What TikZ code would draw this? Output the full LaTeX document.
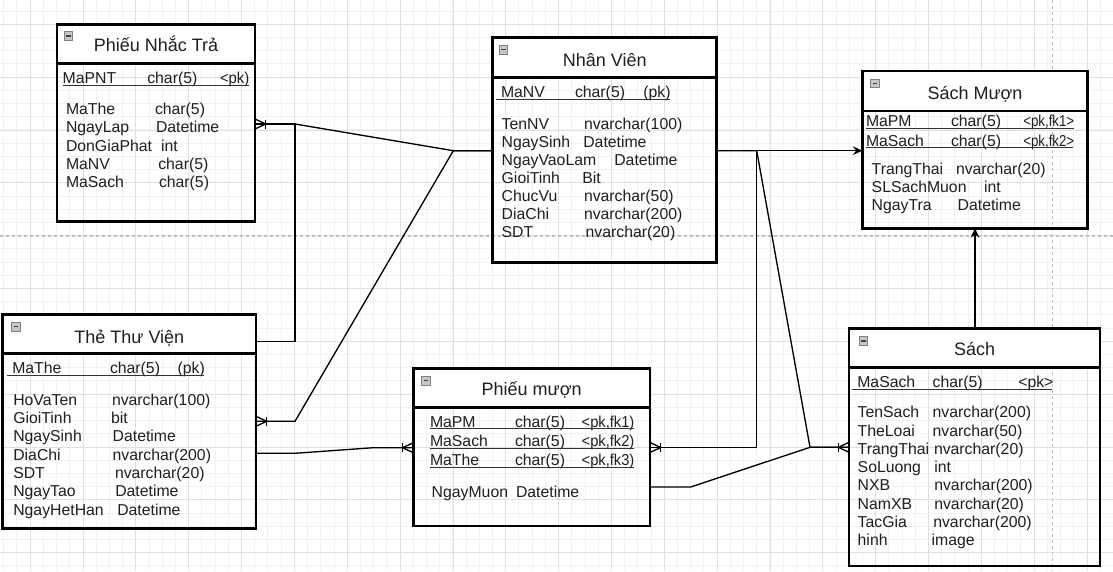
\documentclass[tikz,border=0pt]{standalone}
\usepackage{fontspec}
\setmainfont{Liberation Sans}
\usetikzlibrary{fit,calc,arrows.meta}
\newcommand\crowft[2]{%
  \draw[conn] ($(#1)+(0,-5)$) -- ($(#1)+(#2*10.7,0)$) -- ($(#1)+(0,5)$);
  \draw[conn] ($(#1)+(#2*10.7,-4.5)$) -- ($(#1)+(#2*10.7,4.5)$);
}
\newcommand\tblicon[2]{%
  \draw[iconbox] (#1,#2) rectangle ++(8.5,8.5);
  \draw[iconbar] ({#1+2},{#2+4.25}) -- ({#1+6.5},{#2+4.25});
}
\begin{document}
\begin{tikzpicture}[x=0.75pt,y=-0.75pt,
  tbl/.style={draw=black, line width=2pt, inner sep=0pt, outer sep=0pt, rectangle},
  hdr/.style={draw=black, line width=2pt},
  conn/.style={draw=black, line width=1pt},
  fld/.style={anchor=base west, inner sep=0pt, outer sep=0pt, text=black!88, font=\fontsize{11.85pt}{14pt}\selectfont},
  ttl/.style={anchor=base, inner sep=0pt, text=black!88, font=\fontsize{13.5pt}{16pt}\selectfont},
  ul/.style={draw=black!80, line width=0.75pt},
  gminor/.style={draw=black!5, line width=0.75pt},
  gmajor/.style={draw=black!12, line width=0.75pt},
  pageline/.style={draw=black!25, line width=0.9pt, dash pattern=on 2.5pt off 2pt},
  iconbox/.style={draw=black!50, fill=black!22, line width=0.6pt},
  iconbar/.style={draw=black!75, line width=0.9pt},
  arr/.style={-{Stealth[length=7pt,width=6.5pt]}}]
\useasboundingbox (0,0) rectangle (1113,571);
\fill[white] (0,0) rectangle (1113,571);
% grid
\foreach \i in {0,...,84} \draw[gminor] ({3.78+13.21*\i},0) -- ({3.78+13.21*\i},571);
\foreach \j in {0,...,42} \draw[gminor] (0,{11.1+13.21*\j}) -- (1113,{11.1+13.21*\j});
\foreach \i in {0,...,20} \draw[gmajor] ({30.2+52.85*\i},0) -- ({30.2+52.85*\i},571);
\foreach \j in {0,...,10} \draw[gmajor] (0,{24.3+52.85*\j}) -- (1113,{24.3+52.85*\j});
\draw[pageline] (0,236) -- (1113,236);
\draw[pageline] (1052.5,0) -- (1052.5,571);

% header fills
\fill[white] (57,24.3) rectangle (255,63.3);
\fill[white] (492.7,37.3) rectangle (716.7,77.3);
\fill[white] (862.3,71) rectangle (1087.7,111);
\fill[white] (2.7,314.3) rectangle (256,353.3);
\fill[white] (413.3,368.3) rectangle (650,407.7);
\fill[white] (849,328.3) rectangle (1100,367.7);

% tables
\node[tbl, fit={(57,24.3) (255,221.7)}] (pnt) {};
\node[tbl, fit={(492.7,37.3) (716.7,262.3)}] (nv) {};
\node[tbl, fit={(862.3,71) (1087.7,228.3)}] (sm) {};
\node[tbl, fit={(2.7,314.3) (256,528.3)}] (ttv) {};
\node[tbl, fit={(413.3,368.3) (650,526)}] (pm) {};
\node[tbl, fit={(849,328.3) (1100,566)}] (sach) {};

\draw[hdr] (pnt.west |- 0,63.3) -- (pnt.east |- 0,63.3);
\draw[hdr] (nv.west |- 0,77.3) -- (nv.east |- 0,77.3);
\draw[hdr] (sm.west |- 0,111) -- (sm.east |- 0,111);
\draw[hdr] (ttv.west |- 0,353.3) -- (ttv.east |- 0,353.3);
\draw[hdr] (pm.west |- 0,407.7) -- (pm.east |- 0,407.7);
\draw[hdr] (sach.west |- 0,367.7) -- (sach.east |- 0,367.7);

% icons
\tblicon{64}{31.7}
\tblicon{499}{45.5}
\tblicon{870.7}{79}
\tblicon{11.5}{322.5}
\tblicon{421.5}{376.5}
\tblicon{859}{336.7}

% titles
\node[ttl] (pnt-title) at (pnt.center |- 0,51.7) {Phiếu Nhắc Trả};
\node[ttl] (nv-title) at (nv.center |- 0,66) {Nhân Viên};
\node[ttl] (sm-title) at (sm.center |- 0,99) {Sách Mượn};
\node[ttl] (ttv-title) at (ttv.center |- 0,343.3) {Thẻ Thư Viện};
\node[ttl] (pm-title) at (pm.center |- 0,395.7) {Phiếu mượn};
\node[ttl] (sach-title) at (sach.center |- 0,355.7) {Sách};

% Phieu Nhac Tra
\node[fld] (pnt-k1) at (62.7,83.3) {MaPNT};
\node[fld] (pnt-k2) at (147.3,83.3) {char(5)};
\node[fld] (pnt-k3) at (220,83.3) {\scalebox{0.94}[1]{<pk)}};
\draw[ul] (62.7,85.3) -- (249.3,85.3);
\foreach \n/\t/\tx/\y [count=\i] in {MaThe/char(5)/155/114.7, NgayLap/Datetime/156/132.8, DonGiaPhat/int/161/151, MaNV/char(5)/158.3/169.2, MaSach/char(5)/159/187.4}{
  \node[fld] (pnt-n\i) at (66,\y) {\n};
  \node[fld] (pnt-t\i) at (\tx,\y) {\t};
}

% Nhan Vien
\node[fld] (nv-k1) at (501,97.7) {MaNV};
\node[fld] (nv-k2) at (575,97.7) {char(5)};
\node[fld] (nv-k3) at (643.3,97.7) {(pk)};
\draw[ul] (496,99.5) -- (670,99.5);
\foreach \n/\t/\tx/\y [count=\i] in {TenNV/nvarchar(100)/584/129, NgaySinh/Datetime/583.3/147.1, NgayVaoLam/Datetime/614.3/165.3, GioiTinh/Bit/582.3/183.4, ChucVu/nvarchar(50)/584/201.5, DiaChi/nvarchar(200)/584/219.6, SDT/nvarchar(20)/585.7/237.7}{
  \node[fld] (nv-n\i) at (501.7,\y) {\n};
  \node[fld] (nv-t\i) at (\tx,\y) {\t};
}

% Sach Muon
\node[fld] (sm-k1) at (866,126.5) {MaPM};
\node[fld] (sm-k2) at (951,126.5) {char(5)};
\node[fld] (sm-k3) at (1023.3,126.5) {\scalebox{0.84}[1]{<pk,fk1>}};
\draw[ul] (866,128.3) -- (1074,128.3);
\node[fld] (sm-k4) at (866,146) {MaSach};
\node[fld] (sm-k5) at (951,146) {char(5)};
\node[fld] (sm-k6) at (1023.3,146) {\scalebox{0.84}[1]{<pk,fk2>}};
\draw[ul] (866,147.8) -- (1073,147.8);
\foreach \n/\t/\tx/\y [count=\i] in {TrangThai/nvarchar(20)/956/174.8, SLSachMuon/int/984/192.8, NgayTra/Datetime/957.7/210.8}{
  \node[fld] (sm-n\i) at (871.7,\y) {\n};
  \node[fld] (sm-t\i) at (\tx,\y) {\t};
}

% The Thu Vien
\node[fld] (ttv-k1) at (12.3,373.8) {MaThe};
\node[fld] (ttv-k2) at (110,373.8) {char(5)};
\node[fld] (ttv-k3) at (177.7,373.8) {(pk)};
\draw[ul] (7.3,375.7) -- (204,375.7);
\foreach \n/\t/\tx/\y [count=\i] in {HoVaTen/nvarchar(100)/112/405.3, GioiTinh/bit/111/423.6, NgaySinh/Datetime/112.7/441.9, DiaChi/nvarchar(200)/112.7/460.1, SDT/nvarchar(20)/115/478.4, NgayTao/Datetime/115.3/496.7, NgayHetHan/Datetime/117.3/515}{
  \node[fld] (ttv-n\i) at (13.3,\y) {\n};
  \node[fld] (ttv-t\i) at (\tx,\y) {\t};
}

% Phieu muon
\node[fld] (pm-k1) at (430,427) {MaPM};
\node[fld] (pm-k2) at (515,427) {char(5)};
\node[fld] (pm-k3) at (581.7,427) {\scalebox{0.93}[1]{<pk,fk1)}};
\draw[ul] (430,428.8) -- (634.3,428.8);
\node[fld] (pm-k4) at (430,446.3) {MaSach};
\node[fld] (pm-k5) at (515,446.3) {char(5)};
\node[fld] (pm-k6) at (581.7,446.3) {\scalebox{0.93}[1]{<pk,fk2)}};
\draw[ul] (430,448.1) -- (634.3,448.1);
\node[fld] (pm-k7) at (430,465.3) {MaThe};
\node[fld] (pm-k8) at (515,465.3) {char(5)};
\node[fld] (pm-k9) at (581.7,465.3) {\scalebox{0.93}[1]{<pk,fk3)}};
\draw[ul] (430,467.1) -- (634.3,467.1);
\node[fld] (pm-n1) at (431.7,497.3) {NgayMuon};
\node[fld] (pm-t1) at (516,497.3) {Datetime};

% Sach
\node[fld] (sach-k1) at (857.3,387.3) {MaSach};
\node[fld] (sach-k2) at (932.7,387.3) {char(5)};
\node[fld] (sach-k3) at (1018.3,387.3) {<pk>};
\draw[ul] (852.3,389.3) -- (1052.3,389.3);
\foreach \n/\t/\tx/\y [count=\i] in {TenSach/nvarchar(200)/932.7/417.7, TheLoai/nvarchar(50)/932.7/436, TrangThai/nvarchar(20)/934/454.3, SoLuong/int/934.3/472.6, NXB/nvarchar(200)/934.3/490.9, NamXB/nvarchar(20)/934.3/509.2, TacGia/nvarchar(200)/933.3/527.4, hinh/image/931.7/545.7}{
  \node[fld] (sach-n\i) at (857.7,\y) {\n};
  \node[fld] (sach-t\i) at (\tx,\y) {\t};
}

% connector end points
\coordinate (e-pnt) at (pnt.east |- 0,124);
\coordinate (e-nvw) at (nv.west |- 0,150.7);
\coordinate (e-nve) at (nv.east |- 0,150.7);
\coordinate (e-ttv1) at (ttv.east |- 0,341.7);
\coordinate (e-ttv2) at (ttv.east |- 0,421.3);
\coordinate (e-ttv3) at (ttv.east |- 0,453.3);
\coordinate (e-pmw) at (pm.west |- 0,447.7);
\coordinate (e-pme1) at (pm.east |- 0,447.5);
\coordinate (e-pme2) at (pm.east |- 0,487);
\coordinate (e-smw) at (sm.west |- 0,150.7);
\coordinate (e-sachw) at (sach.west |- 0,447.3);
\coordinate (e-sachn) at (sach.north -| 975,0);
\coordinate (e-sms) at (sm.south -| 975,0);

% connectors
\draw[conn] (e-pnt) -- (295,124) -- (453.3,150.7) -- (e-nvw);
\draw[conn] (e-ttv1) -- (295,341.7) -- (295,124) -- (e-pnt);
\draw[conn] (e-ttv2) -- (295,421.3) -- (453.3,150.7) -- (e-nvw);
\draw[conn] (e-ttv3) -- (295,453.3) -- (373.3,447.7) -- (e-pmw);
\draw[conn] (e-pme1) -- (756.5,447.5) -- (756.5,150.7) -- (e-nve);
\draw[conn,arr] (e-nve) -- (e-smw);
\draw[conn] (e-nve) -- (756.7,150.7) -- (810,447.3) -- (e-sachw);
\draw[conn] (e-pme2) -- (690.7,487) -- (810,447.3) -- (e-sachw);
\draw[conn,arr] (e-sachn) -- (e-sms);

\crowft{e-pnt}{1}
\crowft{e-ttv2}{1}
\crowft{e-pmw}{-1}
\crowft{e-pme1}{1}
\crowft{e-sachw}{-1}
\end{tikzpicture}
\end{document}
